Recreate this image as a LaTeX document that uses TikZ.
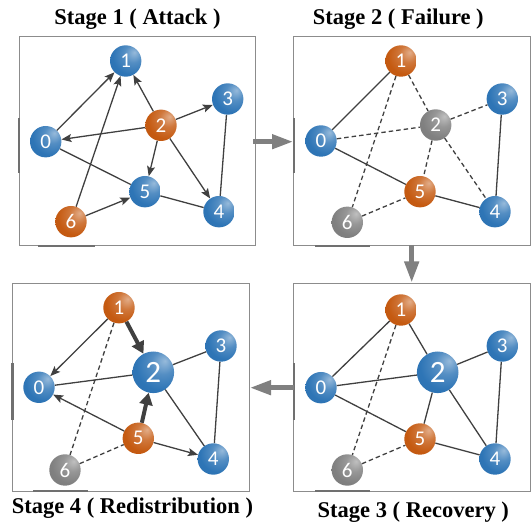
\documentclass[tikz,border=0pt]{standalone}
\usepackage{fontspec}
\setmainfont{Liberation Serif}
\newfontfamily\numfont{Carlito}
\usetikzlibrary{arrows.meta}
\definecolor{nblue}{HTML}{2E75B6}
\definecolor{norange}{HTML}{C55A11}
\definecolor{ngray}{HTML}{808080}
\definecolor{edgec}{HTML}{404040}
\definecolor{framec}{HTML}{8C8C8C}
\definecolor{barc}{HTML}{707070}
\colorlet{ballc}{nblue}
\pgfdeclareradialshading[ballc]{myball}{\pgfpoint{14bp}{14bp}}{%
 color(0bp)=(ballc!50!white); color(14bp)=(ballc!82!white); color(30bp)=(ballc); color(60bp)=(ballc!94!black); color(80bp)=(ballc!85!black)}
\tikzset{
 ball/.style={circle, minimum size=31.4pt, inner sep=0pt, shade, shading=myball, text=white,
   font=\numfont\fontsize{21}{22}\selectfont},
 big/.style={minimum size=41.6pt, font=\numfont\fontsize{31}{32}\selectfont},
 bb/.style={ball, /utils/exec=\colorlet{ballc}{nblue}},
 ob/.style={ball, /utils/exec=\colorlet{ballc}{norange}},
 gb/.style={ball, /utils/exec=\colorlet{ballc}{ngray}},
 ed/.style={draw=edgec, line width=1.3pt},
 arr/.style={ed, -{Stealth[length=10pt,width=8pt,inset=2pt]}},
 tarr/.style={draw=edgec, line width=4pt, -{Triangle[length=12pt,width=13pt]}},
 dsh/.style={ed, dash pattern=on 4.5pt off 3pt},
 frame/.style={draw=framec, line width=1pt},
 bar/.style={draw=barc, line width=2pt},
 parr/.style={draw=ngray, line width=4.5pt, -{Triangle[length=21pt,width=14pt]}},
 title/.style={anchor=base, font=\bfseries\fontsize{22.5}{26}\selectfont, inner sep=0pt},
}
\begin{document}
\begin{tikzpicture}[x=1pt,y=-1pt]
\useasboundingbox (0,0) rectangle (531,526);
% frames
\draw[frame] (19,37) rectangle (255,246);
\draw[frame] (293.5,37) rectangle (530,246);
\draw[frame] (293.5,283.5) rectangle (530,491.5);
\draw[frame] (12.5,283.5) rectangle (249,491.5);
\draw[bar] (19,118) -- (19,173);
\draw[bar] (38,246) -- (95,246);
\draw[bar] (293.5,118) -- (293.5,173);
\draw[bar] (315,246) -- (370,246);
\draw[bar] (293.5,363) -- (293.5,420);
\draw[bar] (315,491.5) -- (370,491.5);
\draw[bar, line width=3pt] (12.5,363) -- (12.5,420);
\draw[bar] (33,491.5) -- (88,491.5);
% titles
\node[title] (t1) at (137.5,25) {Stage 1 ( Attack )};
\node[title] (t2) at (398.3,25) {Stage 2 ( Failure )};
\node[title] (t3) at (413.3,518) {Stage 3 ( Recovery )};
\node[title] (t4) at (132.5,514) {Stage 4 ( Redistribution )};
% panel arrows
\coordinate (p1s) at (253,141.7); \coordinate (p1e) at (293,141.7);
\coordinate (p2s) at (411.7,245); \coordinate (p2e) at (411.7,282.5);
\coordinate (p3s) at (294,387.7); \coordinate (p3e) at (250,387.7);
\draw[parr] (p1s) -- (p1e);
\draw[parr] (p2s) -- (p2e);
\draw[parr] (p3s) -- (p3e);
% panel 1
\node[bb] (a1) at (125.7,61) {1};
\node[bb] (a3) at (227.7,99) {3};
\node[ob] (a2) at (161,125.3) {2};
\node[bb] (a0) at (45.7,141.7) {0};
\node[bb] (a5) at (145,191.7) {5};
\node[bb] (a4) at (219,211.7) {4};
\node[ob] (a6) at (71,221.7) {6};
\draw[arr] (a0) -- (a1);
\draw[arr] (a2) -- (a1);
\draw[arr] (a2) -- (a3);
\draw[arr] (a2) -- (a0);
\draw[arr] (a2) -- (a5);
\draw[arr] (a2) -- (a4);
\draw[arr] (a6) -- (a1);
\draw[arr] (a6) -- (a5);
\draw[ed] (a0) -- (a5);
\draw[ed] (a5) -- (a4);
\draw[ed] (a3) -- (a4);
% panel 2
\node[ob] (b1) at (401,61) {1};
\node[bb] (b3) at (502.3,99) {3};
\node[gb] (b2) at (435.7,125) {2};
\node[bb] (b0) at (321,141) {0};
\node[ob] (b5) at (420,191.7) {5};
\node[bb] (b4) at (495,211.7) {4};
\node[gb] (b6) at (347.3,222.3) {6};
\draw[ed] (b0) -- (b1);
\draw[dsh] (b1) -- (b2);
\draw[dsh] (b1) -- (b6);
\draw[dsh] (b0) -- (b2);
\draw[dsh] (b2) -- (b3);
\draw[dsh] (b2) -- (b5);
\draw[dsh] (b2) -- (b4);
\draw[ed] (b0) -- (b5);
\draw[ed] (b5) -- (b4);
\draw[ed] (b3) -- (b4);
\draw[dsh] (b6) -- (b5);
% panel 3
\node[ob] (c1) at (401,310) {1};
\node[bb] (c3) at (502.3,346) {3};
\node[bb, big] (c2) at (437.7,372.3) {2};
\node[bb] (c0) at (321,387.7) {0};
\node[ob] (c5) at (420,439) {5};
\node[bb] (c4) at (495,459) {4};
\node[gb] (c6) at (347.3,470) {6};
\draw[ed] (c0) -- (c1);
\draw[ed] (c1) -- (c2);
\draw[ed] (c0) -- (c2);
\draw[ed] (c2) -- (c3);
\draw[ed] (c2) -- (c5);
\draw[ed] (c2) -- (c4);
\draw[ed] (c0) -- (c5);
\draw[ed] (c5) -- (c4);
\draw[ed] (c3) -- (c4);
\draw[dsh] (c1) -- (c6);
\draw[dsh] (c6) -- (c5);
% panel 4
\node[ob] (d1) at (119,307.7) {1};
\node[bb] (d3) at (221,346) {3};
\node[bb, big] (d2) at (153.3,372.3) {2};
\node[bb] (d0) at (39,387.3) {0};
\node[ob] (d5) at (138.3,438.3) {5};
\node[bb] (d4) at (213.3,459) {4};
\node[gb] (d6) at (65,470) {6};
\draw[arr] (d1) -- (d0);
\draw[tarr] (d1) -- (d2);
\draw[dsh] (d1) -- (d6);
\draw[ed] (d0) -- (d2);
\draw[ed] (d2) -- (d3);
\draw[ed] (d2) -- (d4);
\draw[ed] (d3) -- (d4);
\draw[arr] (d5) -- (d0);
\draw[tarr] (d5) -- (d2);
\draw[arr] (d5) -- (d4);
\draw[dsh] (d6) -- (d5);
\end{tikzpicture}
\end{document}
